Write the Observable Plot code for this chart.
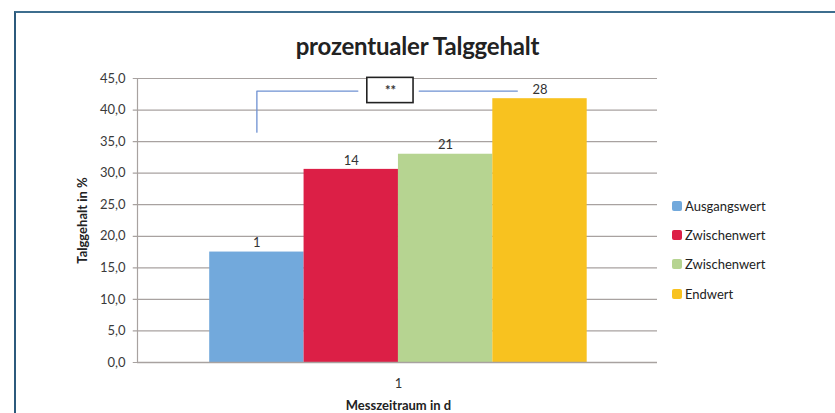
<!DOCTYPE html>
<html>
<head>
<meta charset="utf-8">
<script src="https://cdn.jsdelivr.net/npm/d3@7"></script>
<script src="https://cdn.jsdelivr.net/npm/@observablehq/plot@0.6"></script>
<style>
  html, body { margin: 0; padding: 0; background: #fff; }
  #wrap { position: relative; width: 835px; height: 413px; overflow: hidden; font-family: Lato, "Open Sans", sans-serif; }
  #frame { position: absolute; left: 14px; top: 11px; width: 840px; height: 420px; border-left: 2.5px solid #2c5a7c; border-top: 2.5px solid #3e6e8e; }
  #title { position: absolute; left: 0; width: 835px; top: 31px; text-align: center; font-weight: 700; font-size: 24px; color: #222; letter-spacing: -0.2px; }
  #chart { position: absolute; left: 0; top: 0; }
  #legend { position: absolute; left: 672px; top: 191px; font-size: 13px; color: #222; }
  .li { display: flex; align-items: center; height: 29.3px; }
  .sw { width: 10px; height: 10px; margin-right: 3px; border-radius: 2px; }
</style>
</head>
<body>
<div id="wrap">
  <div id="frame"></div>
  <div id="title">prozentualer Talggehalt</div>
  <div id="chart"></div>
  <div id="legend"></div>
</div>
<script>
// ---- data ----
const series = ["Ausgangswert", "Zwischenwert", "Zwischenwert ", "Endwert"];
const seriesLabels = ["Ausgangswert", "Zwischenwert", "Zwischenwert", "Endwert"];
const values = [17.5, 30.6, 33.0, 41.8];
const dayLabels = ["1", "14", "21", "28"];
const colors = ["#72a9dc", "#dc1f46", "#b6d491", "#f8c21f"];
const yTicks = [0, 5, 10, 15, 20, 25, 30, 35, 40, 45];
const xTickLabel = "1";
const yLabel = "Talggehalt in %";
const xLabel = "Messzeitraum in d";
const sigLabel = "**";

// table built from the arrays (bar i spans x = i .. i+1)
const bars = series.map((s, i) => ({ s, i, x1: i, x2: i + 1, xc: i + 0.5, v: values[i], lab: dayLabels[i], c: colors[i] }));

// significance bracket (data coords)
const bracketLeft = [{ x: 0.5, y: 36.5 }, { x: 0.5, y: 43.0 }, { x: 1.57, y: 43.0 }];
const bracketRight = [{ x: 2.22, y: 43.0 }, { x: 3.26, y: 43.0 }];
const sigBox = [{ x1: 1.67, x2: 2.16, y1: 41.1, y2: 45.1, t: sigLabel }];

const fmt = d => d.toFixed(1).replace(".", ",");
const font = "Lato, 'Open Sans', sans-serif";

const plot = Plot.plot({
  width: 835,
  height: 413,
  marginLeft: 137,
  marginRight: 178,
  marginTop: 78,
  marginBottom: 51,
  style: { fontFamily: font, fontSize: "13px", color: "#333", background: "transparent", overflow: "visible" },
  x: { type: "linear", domain: [-0.765, 4.745], axis: null },
  y: { domain: [0, 45], axis: null },
  marks: [
    Plot.gridY(yTicks, { stroke: "#a8a2a0", strokeOpacity: 1, strokeWidth: 1.2, x1: -0.81, x2: 4.745 }),
    Plot.axisY(yTicks, { tickFormat: fmt, tickSize: 0, tickPadding: 12, fontSize: 13, fill: "#3a3a3a", label: null }),
    Plot.rectY(bars, { x1: "x1", x2: "x2", y1: 0, y2: "v", fill: "c" }),
    Plot.ruleX([-0.765], { y1: 0, y2: 45, stroke: "#a8a2a0", strokeWidth: 1.2 }),
    Plot.ruleY([0], { stroke: "#a8a2a0", strokeWidth: 1.4 }),
    Plot.text(bars, { x: "xc", y: "v", text: "lab", dy: -9, fontSize: 13, fill: "#333" }),
    Plot.line(bracketLeft, { x: "x", y: "y", stroke: "#6f91d2", strokeWidth: 1.3 }),
    Plot.line(bracketRight, { x: "x", y: "y", stroke: "#6f91d2", strokeWidth: 1.3 }),
    Plot.rect(sigBox, { x1: "x1", x2: "x2", y1: "y1", y2: "y2", fill: "white", stroke: "#222", strokeWidth: 1.6 }),
    Plot.text(sigBox, { x: d => (d.x1 + d.x2) / 2, y: d => (d.y1 + d.y2) / 2, text: "t", fontSize: 13, fontWeight: 700, fill: "#333" }),
    Plot.text([xTickLabel], { x: 2, y: 0, text: d => d, dy: 21, fontSize: 13, fill: "#333" }),
    Plot.text([xLabel], { x: 2, y: 0, text: d => d, dy: 43, fontSize: 13, fontWeight: 700, fill: "#222" }),
    Plot.text([yLabel], { x: -0.765, y: 22.5, text: d => d, dx: -55, rotate: -90, fontSize: 13, fontWeight: 700, fill: "#222" })
  ]
});
document.getElementById("chart").appendChild(plot);

const legend = document.getElementById("legend");
seriesLabels.forEach((s, i) => {
  const row = document.createElement("div");
  row.className = "li";
  const sw = document.createElement("span");
  sw.className = "sw";
  sw.style.background = colors[i];
  const tx = document.createElement("span");
  tx.textContent = s;
  row.appendChild(sw);
  row.appendChild(tx);
  legend.appendChild(row);
});
</script>
</body>
</html>
